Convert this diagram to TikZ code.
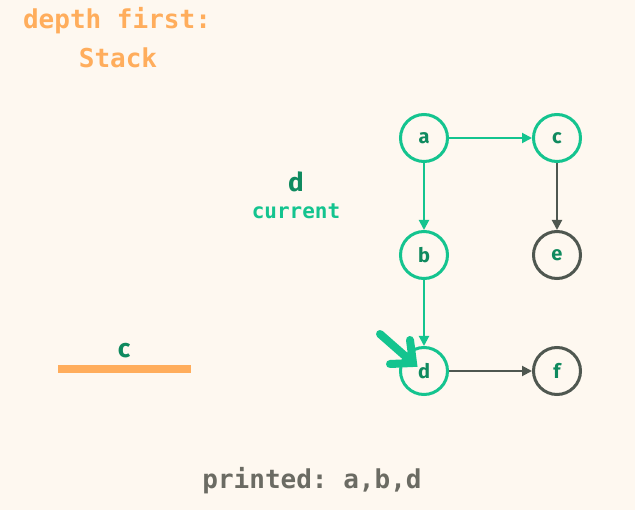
\documentclass[tikz,border=0pt]{standalone}
\usepackage{fontspec}
\setmainfont{Fira Sans}
\setmonofont{DejaVu Sans Mono}
\usetikzlibrary{arrows.meta}
\definecolor{bgCol}{HTML}{FEF8F0}
\definecolor{visitCol}{HTML}{14C48F}
\definecolor{labelCol}{HTML}{0F8A5F}
\definecolor{restCol}{HTML}{4F5750}
\definecolor{stackCol}{HTML}{FFAD5C}
\definecolor{printCol}{HTML}{6B6B63}
\tikzset{
  vertex/.style={circle, line width=3pt, minimum size=47pt, inner sep=0pt, fill=bgCol,
    font=\fontsize{20}{20}\bfseries\selectfont, text=labelCol},
  seen/.style={vertex, draw=visitCol},
  unseen/.style={vertex, draw=restCol},
  edgeSeen/.style={visitCol, line width=2pt, -{Triangle[length=10pt,width=10pt]}},
  edgeRest/.style={restCol, line width=2pt, -{Triangle[length=10pt,width=10pt]}},
  monoText/.style={font=\fontsize{26}{26}\ttfamily\bfseries\selectfont},
}

\begin{document}
\begin{tikzpicture}[x=1pt,y=-1pt]
\useasboundingbox[fill=bgCol] (0,0) rectangle (635,510);
% title
\node[monoText, text=stackCol] (title) at (117,21) {depth first:};
\node[monoText, text=stackCol] (stack) at (118,58) {Stack};
% graph
\node[seen] (a) at (424,138) {a};
\node[seen] (c) at (557,138) {c};
\node[seen] (b) at (424,255) {b};
\node[unseen] (e) at (557,255) {e};
\node[seen] (d) at (424,371) {d};
\node[unseen] (f) at (557,371) {f};
\draw[edgeSeen] (a) -- (c);
\draw[edgeSeen] (a) -- (b);
\draw[edgeSeen] (b) -- (d);
\draw[edgeRest] (c) -- (e);
\draw[edgeRest] (d) -- (f);
% current vertex
\node[font=\fontsize{26}{26}\bfseries\selectfont, text=labelCol] (cur) at (296,182) {d};
\node[font=\fontsize{21}{21}\ttfamily\bfseries\selectfont, text=visitCol] (curLbl) at (296,211) {current};
\coordinate (tail) at (380,334);
\coordinate (tip) at (413,363);
\draw[visitCol, line width=8pt, line cap=round] (tail) -- (tip);
\draw[visitCol, line width=8pt, line cap=round, line join=miter] (410,340) -- (tip) -- (390,364);
% stack contents
\fill[stackCol] (58,365) rectangle (191,373);
\node[font=\fontsize{26}{26}\bfseries\selectfont, text=labelCol] (top) at (124,351) {c};
% output
\node[monoText, text=printCol] (printed) at (312,481) {printed: a,b,d};
\end{tikzpicture}
\end{document}
